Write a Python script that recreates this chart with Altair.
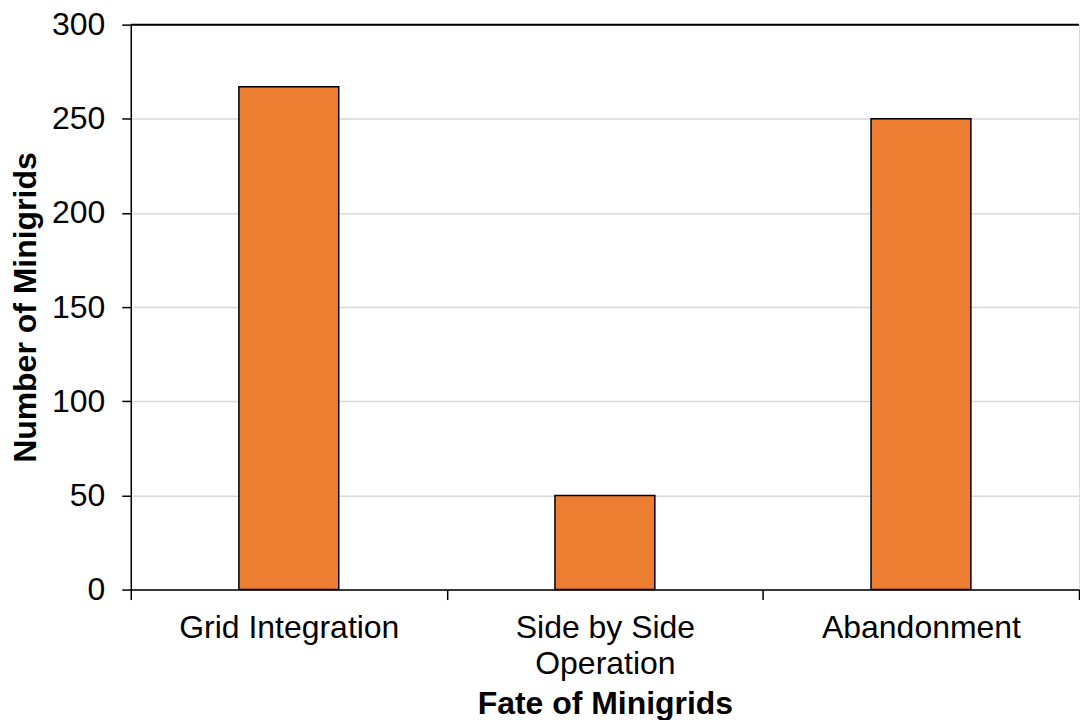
import altair as alt
import pandas as pd

categories = ["Grid Integration", "Side by Side|Operation", "Abandonment"]
values = [267, 50, 250]
y_ticks = [0, 50, 100, 150, 200, 250, 300]

df = pd.DataFrame({"fate": categories, "count": values})
top_df = pd.DataFrame({"top": [300]})

FONT = "Liberation Sans"
FS = 32

bars = alt.Chart(df).mark_bar(
    width=alt.RelativeBandSize(0.316),
    color="#ED7D31",
    stroke="#000000",
    strokeWidth=1.5,
).encode(
    x=alt.X(
        "fate:N",
        sort=categories,
        scale=alt.Scale(paddingInner=0, paddingOuter=0),
        axis=alt.Axis(
            title="Fate of Minigrids",
            labelAngle=0,
            labelExpr="split(datum.label, '|')",
            labelFontSize=FS,
            labelLineHeight=36,
            labelPadding=13,
            labelLimit=0,
            labelColor="#000000",
            labelFont=FONT,
            titleFont=FONT,
            titleFontSize=FS,
            titleFontWeight="bold",
            titleColor="#000000",
            titlePadding=9,
            tickBand="extent",
            tickSize=10,
            tickColor="#000000",
            tickWidth=1.5,
            domainColor="#000000",
            domainWidth=1.5,
            grid=False,
        ),
    ),
    y=alt.Y(
        "count:Q",
        scale=alt.Scale(domain=[0, 300], nice=False),
        axis=alt.Axis(
            title="Number of Minigrids",
            values=y_ticks,
            labelFontSize=FS,
            labelFont=FONT,
            labelColor="#000000",
            labelPadding=17,
            titleFont=FONT,
            titleFontSize=FS,
            titleFontWeight="bold",
            titleColor="#000000",
            titlePadding=9,
            tickSize=9,
            tickColor="#000000",
            tickWidth=1.5,
            domainColor="#000000",
            domainWidth=1.5,
            gridColor="#D9D9D9",
            gridWidth=1.5,
        ),
    ),
)

top_rule = alt.Chart(top_df).mark_rule(color="#000000", strokeWidth=2).encode(
    y=alt.Y("top:Q")
)

chart = alt.layer(bars, top_rule).properties(
    width=950,
    height=566,
    padding={"left": 1, "right": 0, "top": 0, "bottom": 0},
).configure_view(stroke=None).configure(background="#FFFFFF")

chart.save("out.html", embed_options={"renderer": "svg", "actions": False})
